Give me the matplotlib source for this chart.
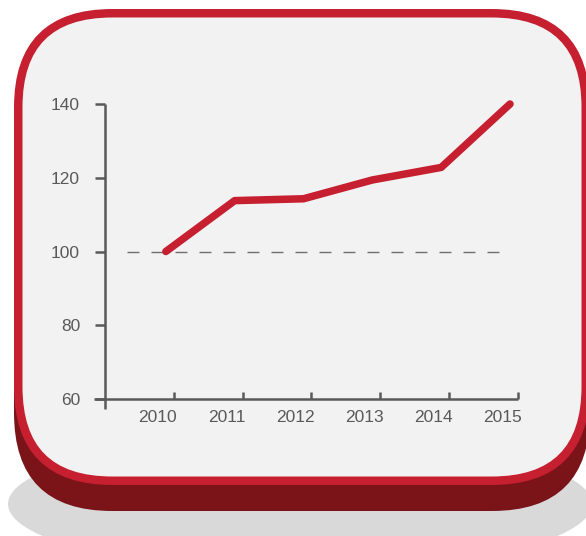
import matplotlib
matplotlib.use('Agg')
import matplotlib.pyplot as plt
from matplotlib.patches import FancyBboxPatch, Ellipse

# 数据
years = [2010, 2011, 2012, 2013, 2014, 2015]
values = [100, 113.8, 114.3, 119.4, 122.8, 140]
y_ticks = [60, 80, 100, 120, 140]
baseline = 100

red = '#c51f30'
dark_red = '#7a1419'
grey = '#595959'

plt.rcParams['font.family'] = ['Liberation Sans', 'DejaVu Sans']

fig = plt.figure(figsize=(5.86, 5.36), dpi=100)

# 背景：阴影、立体底座、圆角框 (像素坐标)
bg = fig.add_axes([0, 0, 1, 1])
bg.set_xlim(0, 586)
bg.set_ylim(536, 0)
bg.axis('off')
bg.add_patch(Ellipse((300, 504), 584, 136, fc='#d9d9d9', ec='none'))
bg.add_patch(FancyBboxPatch((14, 35), 576, 476, boxstyle='round,pad=0,rounding_size=98',
                            fc=dark_red, ec='none'))
bg.add_patch(FancyBboxPatch((18.25, 13.25), 567.5, 467.5, boxstyle='round,pad=0,rounding_size=94',
                            fc='#f2f2f2', ec=red, lw=6.1))

# 图表区域
ax = fig.add_axes([105 / 586, 137 / 536, 413 / 586, 295 / 536])
ax.patch.set_visible(False)
for s in ax.spines.values():
    s.set_visible(False)
x0, x1 = years[0] - 0.884, years[-1] + 0.116
ax.set_xlim(x0, x1)
ax.set_ylim(60, 140)

# 坐标轴线
ax.plot([x0, x0], [57.3, 140], color=grey, lw=1.8, clip_on=False, solid_capstyle='butt')
ax.plot([x0 - 0.16, x1], [60, 60], color=grey, lw=1.8, clip_on=False, solid_capstyle='butt')

# 基准虚线
ax.plot([years[0] - 0.565, years[-1] - 0.09], [baseline, baseline], color='#6e6e6e', lw=1,
        ls=(0, (8.64, 8.64)))

# 折线
ax.plot(years, values, color=red, lw=5.4, solid_capstyle='round', solid_joinstyle='round',
        clip_on=False)

ax.set_yticks(y_ticks)
ax.tick_params(axis='y', direction='out', length=7.5, width=1.8, color=grey,
               labelcolor=grey, labelsize=12.5, pad=10.5)
ax.set_xticks([y - 0.115 for y in years])
ax.set_xticklabels([str(y) for y in years])
ax.tick_params(axis='x', which='major', length=0, labelcolor=grey, labelsize=12.5, pad=8)
ax.set_xticks([y + 0.116 for y in years], minor=True)
ax.tick_params(axis='x', which='minor', direction='in', length=5, width=1.8, color=grey)

fig.savefig('out.png', dpi=100)
